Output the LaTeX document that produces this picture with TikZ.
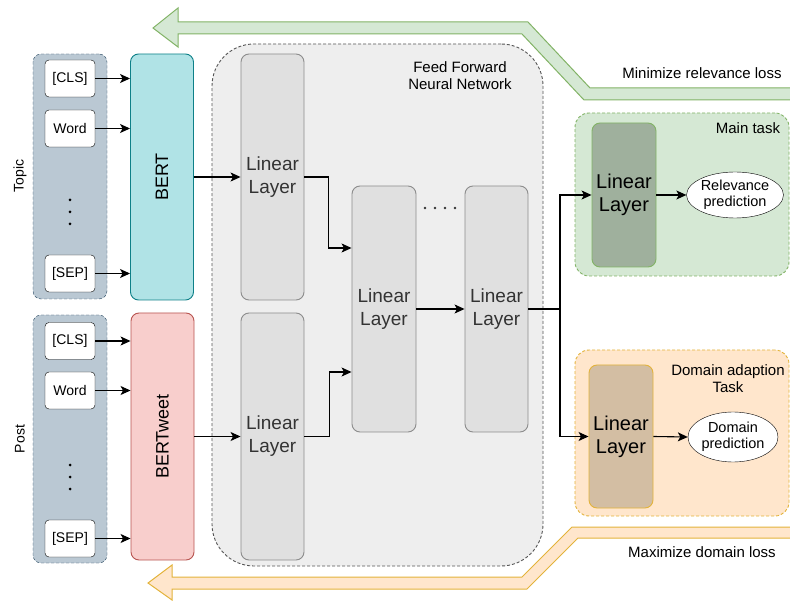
\documentclass[tikz,border=0pt]{standalone}
\usepackage{fontspec}
\setmainfont{Liberation Sans}
\usepackage{tikz}
\usetikzlibrary{shapes.geometric}
\usetikzlibrary{arrows.meta}

\definecolor{grpfill}{HTML}{BAC8D3}
\definecolor{grpdraw}{HTML}{23445D}
\definecolor{bertfill}{HTML}{B0E3E6}
\definecolor{bertdraw}{HTML}{0E8088}
\definecolor{twfill}{HTML}{F8CECC}
\definecolor{twdraw}{HTML}{B85450}
\definecolor{ffnnfill}{HTML}{EEEEEE}
\definecolor{ffnndraw}{HTML}{555555}
\definecolor{llfill}{HTML}{E0E0E0}
\definecolor{lldraw}{HTML}{8C8C8C}
\definecolor{lltext}{HTML}{333333}
\definecolor{mainfill}{HTML}{D5E8D4}
\definecolor{maindraw}{HTML}{82B366}
\definecolor{mainll}{HTML}{9FB09D}
\definecolor{domfill}{HTML}{FFE6CC}
\definecolor{domdraw}{HTML}{E3B33B}
\definecolor{domll}{HTML}{D3BEA3}

\begin{document}
\begin{tikzpicture}[x=1pt, y=-1pt,
	tokgroup/.style={shape=rectangle, draw=grpdraw, fill=grpfill, dash pattern=on 3pt off 2pt, rounded corners=8pt, minimum width=74pt, inner sep=0pt},
	tokbox/.style={shape=rectangle, draw=black, fill=white, rounded corners=4pt, minimum width=50pt, minimum height=37pt, inner sep=0pt, font=\fontsize{14}{16}\selectfont},
	encbox/.style={shape=rectangle, rounded corners=8pt, minimum width=63pt, minimum height=247pt, inner sep=0pt, line width=0.9pt, font=\fontsize{18}{20}\selectfont},
	linbox/.style={shape=rectangle, draw=lldraw, fill=llfill, rounded corners=8pt, minimum width=63pt, minimum height=246pt, inner sep=0pt, line width=0.9pt, align=center, text=lltext, font=\fontsize{19}{23}\selectfont},
	headbox/.style={shape=rectangle, rounded corners=8pt, minimum width=64pt, minimum height=144pt, inner sep=0pt, line width=0.9pt, align=center, font=\fontsize{20}{23}\selectfont},
	taskgroup/.style={shape=rectangle, dash pattern=on 3pt off 2pt, rounded corners=14pt, minimum width=214pt, inner sep=0pt, line width=0.9pt},
	predict/.style={shape=ellipse, draw=black, fill=white, inner sep=0pt, align=center, font=\fontsize{14.5}{16}\selectfont},
	lbl/.style={align=center, inner sep=0pt, font=\fontsize{15}{17}\selectfont},
	wire/.style={-{Stealth[length=10pt, width=9pt, inset=2.5pt]}, line width=1.1pt}]
	\useasboundingbox (0,0) rectangle (790,601);

	% Loss arrows:
	\draw[draw=maindraw, fill=mainfill, line width=1pt] (790,88) -- (590,88) -- (528,22) -- (178,22) -- (178,8) -- (153,28) -- (178,47) -- (178,34) -- (522,34) -- (584,100) -- (790,100);
	\draw[draw=domdraw, fill=domfill, line width=1pt] (790,527) -- (572,527) -- (522,577) -- (172,577) -- (172,565) -- (148,583) -- (172,600) -- (172,589) -- (527,589) -- (578,538) -- (790,538);
	\node[lbl] (minloss) at (702,73) {Minimize relevance loss};
	\node[lbl] (maxloss) at (702,552) {Maximize domain loss};

	% Inputs:
	\node[tokgroup, minimum height=245pt] (topic) at (70,176.5) {};
	\node[tokgroup, minimum height=248pt] (post) at (70,439) {};
	\node[lbl, rotate=90, font=\fontsize{14}{16}\selectfont] (topiclbl) at (20,176) {Topic};
	\node[lbl, rotate=90, font=\fontsize{14}{16}\selectfont] (postlbl) at (20,439) {Post};
	\node[tokbox] (tcls) at (70,78.5) {[CLS]};
	\node[tokbox] (tword) at (70,128.5) {Word};
	\node[tokbox] (tsep) at (70,273.5) {[SEP]};
	\node[tokbox] (pcls) at (70,341) {[CLS]};
	\node[tokbox] (pword) at (70,390.5) {Word};
	\node[tokbox] (psep) at (70,538.5) {[SEP]};
	\foreach \y in {200,212,224} \fill (70,\y) circle (1.5pt);
	\foreach \y in {465,477,489} \fill (70,\y) circle (1.5pt);

	% Encoders:
	\node[encbox, draw=bertdraw, fill=bertfill, minimum height=246pt] (bert) at (162,177) {};
	\node[rotate=90, font=\fontsize{18}{20}\selectfont] at (bert.center) {BERT};
	\node[encbox, draw=twdraw, fill=twfill] (bertweet) at (162.5,436.5) {};
	\node[rotate=90, font=\fontsize{18}{20}\selectfont] at (bertweet.center) {BERTweet};
	\draw[wire] (tcls.east) -- (tcls.east -| bert.west);
	\draw[wire] (tword.east) -- (tword.east -| bert.west);
	\draw[wire] (tsep.east) -- (tsep.east -| bert.west);
	\draw[wire] (pcls.east) -- (pcls.east -| bertweet.west);
	\draw[wire] (pword.east) -- (pword.east -| bertweet.west);
	\draw[wire] (psep.east) -- (psep.east -| bertweet.west);

	% Feed forward network:
	\node[shape=rectangle, draw=ffnndraw, fill=ffnnfill, dash pattern=on 3pt off 2pt, rounded corners=42pt, minimum width=331pt, minimum height=522pt, line width=0.9pt] (ffnn) at (377.5,305) {};
	\node[lbl] (ffnnlbl) at (460,75.5) {Feed Forward\\Neural Network};
	\node[linbox] (ll1) at (272.5,177) {Linear\\Layer};
	\node[linbox, minimum height=247pt] (ll2) at (272.5,436.5) {Linear\\Layer};
	\node[linbox, minimum width=64pt] (ll3) at (384,309) {Linear\\Layer};
	\node[linbox] (ll4) at (496.5,309) {Linear\\Layer};
	\foreach \x in {425,435,445,455} \fill[lltext] (\x,208) circle (1.3pt);
	\draw[wire] (bert.east) -- (ll1.west);
	\draw[wire] (bertweet.east) -- (ll2.west);
	\draw[wire] (ll1.east) -- ++(24,0) |- ([yshift=61pt]ll3.west);
	\draw[wire] (ll2.east) -- ++(25,0) |- ([yshift=-63pt]ll3.west);
	\draw[wire] (ll3.east) -- (ll4.west);

	% Task heads:
	\node[taskgroup, draw=maindraw, fill=mainfill, minimum height=163pt] (maintask) at (682,194.5) {};
	\node[lbl] (mainlbl) at (748,128) {Main task};
	\node[headbox, draw=maindraw, fill=mainll] (mlin) at (624,195) {Linear\\Layer};
	\node[predict, minimum width=94pt, minimum height=46pt] (rel) at (735,195) {Relevance\\prediction};
	\node[taskgroup, draw=domdraw, fill=domfill, minimum height=166pt] (domtask) at (682,433) {};
	\node[lbl] (domlbl) at (728,378.5) {Domain adaption\\Task};
	\node[headbox, draw=domdraw, fill=domll, minimum height=143pt] (dlin) at (621,436.5) {Linear\\Layer};
	\node[predict, minimum width=90pt, minimum height=50pt] (dom) at (733,437) {Domain\\prediction};
	\coordinate (split) at (560,309);
	\draw[line width=1.1pt] (ll4.east) -- (split);
	\draw[wire] (split) |- (mlin.west);
	\draw[wire] (split) |- (dlin.west);
	\draw[wire] (mlin.east) -- (rel.west);
	\draw[wire] (dlin.east) -- (dom.west);
\end{tikzpicture}
\end{document}
